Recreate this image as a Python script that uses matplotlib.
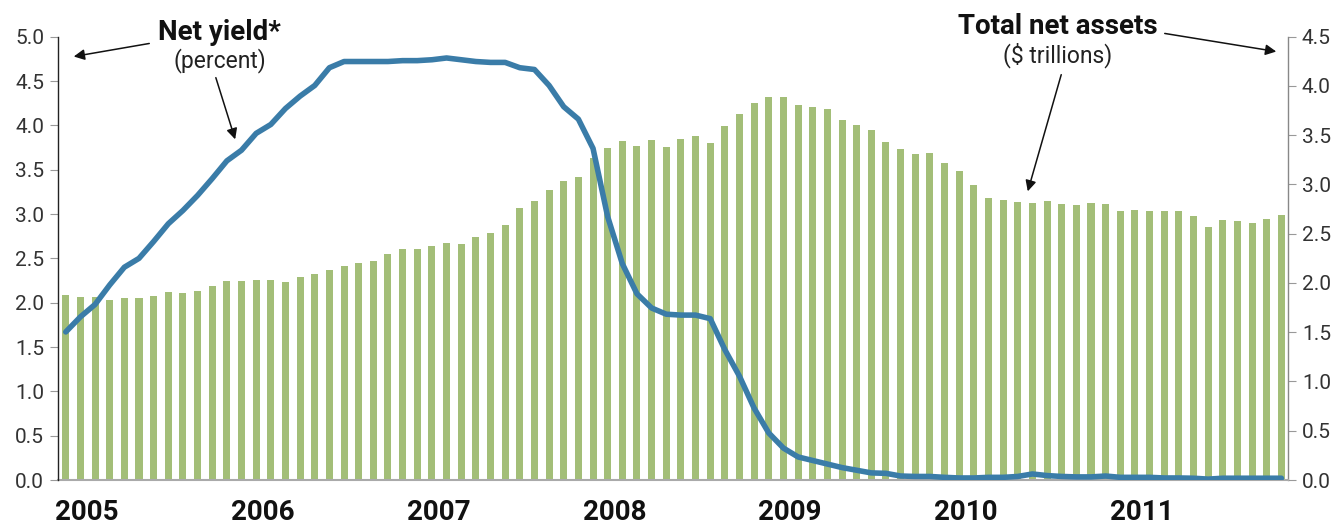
import matplotlib
matplotlib.use("Agg")
import matplotlib.pyplot as plt
import numpy as np

plt.rcParams['font.family'] = ['Roboto', 'DejaVu Sans']

# Monthly data, Jan 2005 - Dec 2011
total_net_assets = [
    1.88, 1.86, 1.86, 1.83, 1.85, 1.85, 1.87, 1.91, 1.90, 1.92, 1.97, 2.02,
    2.02, 2.03, 2.03, 2.01, 2.06, 2.09, 2.13, 2.17, 2.20, 2.22, 2.29, 2.34,
    2.34, 2.38, 2.41, 2.40, 2.47, 2.51, 2.59, 2.76, 2.83, 2.94, 3.04, 3.08,
    3.27, 3.37, 3.44, 3.39, 3.45, 3.38, 3.46, 3.49, 3.42, 3.59, 3.72, 3.83,
    3.89, 3.89, 3.81, 3.79, 3.77, 3.65, 3.60, 3.55, 3.43, 3.36, 3.31, 3.32,
    3.22, 3.14, 2.99, 2.86, 2.84, 2.82, 2.81, 2.83, 2.80, 2.79, 2.81, 2.80,
    2.73, 2.74, 2.73, 2.73, 2.73, 2.68, 2.57, 2.64, 2.63, 2.61, 2.65, 2.69,
]
net_yield = [
    1.67, 1.84, 1.98, 2.20, 2.40, 2.50, 2.69, 2.89, 3.04, 3.21, 3.40, 3.60,
    3.72, 3.91, 4.01, 4.19, 4.33, 4.45, 4.65, 4.72, 4.72, 4.72, 4.72, 4.73,
    4.73, 4.74, 4.76, 4.74, 4.72, 4.71, 4.71, 4.65, 4.63, 4.45, 4.21, 4.07,
    3.74, 2.97, 2.44, 2.10, 1.94, 1.87, 1.86, 1.86, 1.82, 1.47, 1.17, 0.81,
    0.53, 0.36, 0.26, 0.22, 0.18, 0.14, 0.11, 0.08, 0.075, 0.045, 0.04, 0.04,
    0.03, 0.023, 0.023, 0.03, 0.03, 0.04, 0.068, 0.05, 0.04, 0.035, 0.035, 0.045,
    0.03, 0.03, 0.03, 0.023, 0.023, 0.02, 0.01, 0.02, 0.02, 0.02, 0.02, 0.02,
]
year_labels = ['2005', '2006', '2007', '2008', '2009', '2010', '2011']
left_ticks = [0.0, 0.5, 1.0, 1.5, 2.0, 2.5, 3.0, 3.5, 4.0, 4.5, 5.0]
right_ticks = [0.0, 0.5, 1.0, 1.5, 2.0, 2.5, 3.0, 3.5, 4.0, 4.5]

W, H = 1342, 527
fig = plt.figure(figsize=(W / 100, H / 100), dpi=100)
ax = fig.add_axes([58 / W, 1 - 480 / H, (1288 - 58) / W, (480 - 36.7) / H])
ax2 = ax.twinx()

x = np.arange(len(total_net_assets))
bar_color = '#a3be78'
line_color = '#3a7ca8'

# bars on the base axis (right-hand scale)
ax.bar(x, total_net_assets, width=0.48, color=bar_color, zorder=2)
ax.set_ylim(0, 4.5)
ax.set_xlim(-0.53, 83.45)
ax.yaxis.tick_right()
ax.set_yticks(right_ticks)
ax.set_yticklabels([f'{v:.1f}' for v in right_ticks])

# line on twin axis (left-hand scale), drawn above bars
ax2.plot(x, net_yield, color=line_color, lw=4.0, solid_capstyle='round',
         solid_joinstyle='round', zorder=3)
ax2.set_ylim(0, 5)
ax2.yaxis.tick_left()
ax2.set_yticks(left_ticks)
ax2.set_yticklabels([f'{v:.1f}' for v in left_ticks])

for a in (ax, ax2):
    a.set_facecolor('none')
    for s in a.spines.values():
        s.set_visible(False)
    a.tick_params(axis='y', length=6, width=0.8, color='#999999',
                  labelsize=15, labelcolor='#333333', pad=4)

ax.spines['bottom'].set_visible(True)
ax.spines['bottom'].set_color('#aaaaaa')
ax.spines['bottom'].set_linewidth(1.5)
ax.spines['right'].set_visible(True)
ax.spines['right'].set_color('#888888')
ax.spines['right'].set_linewidth(1.0)
ax2.spines['left'].set_visible(True)
ax2.spines['left'].set_color('#222222')
ax2.spines['left'].set_linewidth(1.0)

ax.set_xticks([12 * i + 1.46 for i in range(len(year_labels))])
ax.set_xticklabels(year_labels, fontsize=20, fontweight='bold', color='#111111')
ax.tick_params(axis='x', length=0, pad=14)

# annotations (figure pixel coordinates)
def fx(px):
    return px / W

def fy(py):
    return 1 - py / H

fig.text(fx(219.5), fy(32), 'Net yield*', ha='center', va='center',
         fontsize=20, fontweight='bold', color='#111111')
fig.text(fx(220), fy(61), '(percent)', ha='center', va='center',
         fontsize=16.5, color='#222222')
fig.text(fx(1057.5), fy(27), 'Total net assets', ha='center', va='center',
         fontsize=20, fontweight='bold', color='#111111')
fig.text(fx(1057.5), fy(55), '($ trillions)', ha='center', va='center',
         fontsize=16.5, color='#222222')

arrows = [((152, 43), (71, 57)), ((215, 75), (236, 142)),
          ((1162, 33), (1279, 52)), ((1062, 72), (1027, 194))]
for (x0, y0), (x1, y1) in arrows:
    fig.add_artist(matplotlib.patches.FancyArrowPatch(
        (fx(x0), fy(y0)), (fx(x1), fy(y1)), transform=fig.transFigure,
        arrowstyle='-|>', mutation_scale=16, lw=1.1, color='#111111'))

fig.savefig('out.png', dpi=100)
